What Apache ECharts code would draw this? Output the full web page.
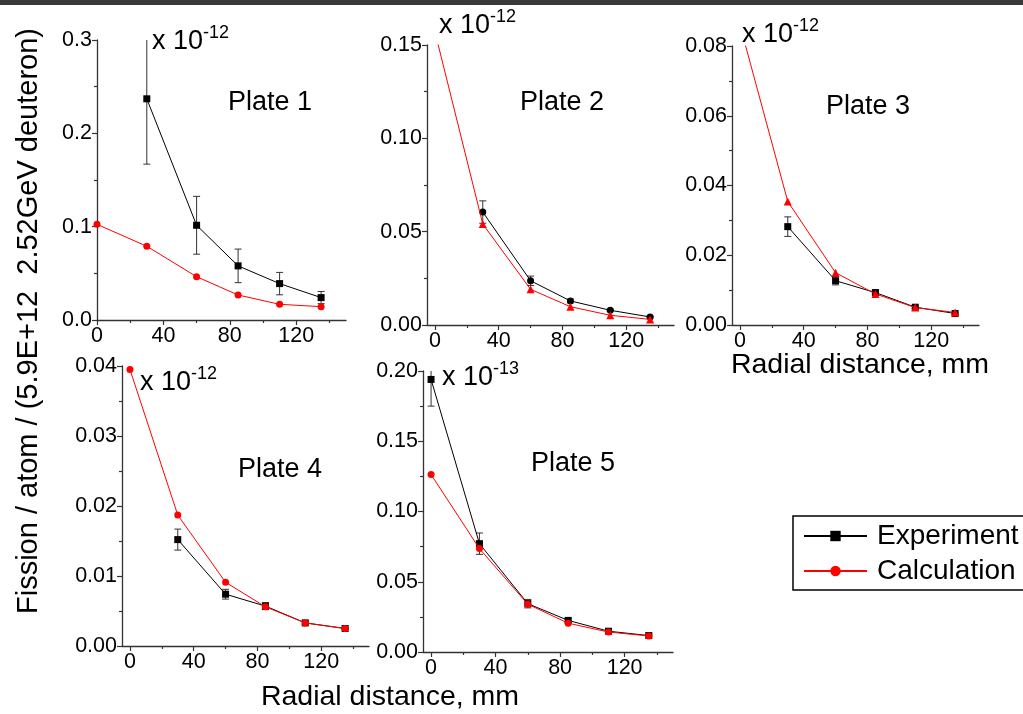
<!DOCTYPE html>
<html><head><meta charset="utf-8">
<script src="https://cdn.jsdelivr.net/npm/echarts@6/dist/echarts.min.js"></script>
<style>html,body{margin:0;padding:0;background:#fff}#c{width:1023px;height:714px}</style>
</head><body><div id="c"></div>
<script>
// ---------- data ----------
const calcX = [0, 30, 60, 85, 110, 135];
const expX = [30, 60, 85, 110, 135];
const expX5 = [0, 30, 60, 85, 110, 135];

const p1Exp = [0.237, 0.1015, 0.058, 0.039, 0.024];
const p1Err = [0.07, 0.031, 0.018, 0.012, 0.0065];
const p1Calc = [0.1025, 0.079, 0.0464, 0.0268, 0.0168, 0.0143];

const p2Exp = [0.0605, 0.0237, 0.0129, 0.0079, 0.0043];
const p2Err = [0.006, 0.0025, 0.001, 0.0006, 0.0004];
const p2Calc = [0.157, 0.0541, 0.0191, 0.0098, 0.0052, 0.0030];

const p3Exp = [0.0282, 0.0127, 0.0093, 0.0051, 0.0033];
const p3Err = [0.0028, 0.0012, 0.0007, 0.0004, 0.0003];
const p3Calc = [0.086, 0.0354, 0.0150, 0.0089, 0.0050, 0.0036];

const p4Exp = [0.0152, 0.0074, 0.0057, 0.0033, 0.0025];
const p4Err = [0.0015, 0.0007, 0.0005, 0.0002, 0.0001];
const p4Calc = [0.0395, 0.0187, 0.0091, 0.0056, 0.0033, 0.0025];

const p5Exp = [0.194, 0.0771, 0.0344, 0.0225, 0.0148, 0.0117];
const p5Err = [0.019, 0.0076, 0.003, 0.0012, 0.0008, 0.0006];
const p5Calc = [0.1263, 0.0736, 0.0340, 0.0205, 0.0142, 0.0114];

const xMajorTicks = [0, 40, 80, 120];
const xMinorTicks = [20, 60, 100, 140];
const plateNames = ['Plate 1', 'Plate 2', 'Plate 3', 'Plate 4', 'Plate 5'];
const scaleExp = ['-12', '-12', '-12', '-12', '-13'];
const yMax = [0.3, 0.15, 0.08, 0.04, 0.20];
const yStep = [0.1, 0.05, 0.02, 0.01, 0.05];
const yDecimals = [1, 2, 2, 2, 2];
const xMin = [0, -5, -5, -5, -5];
const xMax = 150;
const seriesNames = ['Experiment', 'Calculation'];
const yTitle = 'Fission / atom / (5.9E+12  2.52GeV deuteron)';
const xTitle = 'Radial distance, mm';

const panels = [
  {ex: expX, ey: p1Exp, ee: p1Err, cy: p1Calc, eSym: 'rect', cSym: 'circle'},
  {ex: expX, ey: p2Exp, ee: p2Err, cy: p2Calc, eSym: 'circle', cSym: 'triangle'},
  {ex: expX, ey: p3Exp, ee: p3Err, cy: p3Calc, eSym: 'rect', cSym: 'triangle'},
  {ex: expX, ey: p4Exp, ee: p4Err, cy: p4Calc, eSym: 'rect', cSym: 'circle'},
  {ex: expX5, ey: p5Exp, ee: p5Err, cy: p5Calc, eSym: 'rect', cSym: 'circle'}
];

// ---------- layout ----------
const FONT = '"Liberation Sans", Arial, sans-serif';
const TICK_FS = 21.5;
const grids = [
  {left: 97, top: 40, width: 249, height: 280},
  {left: 427, top: 45, width: 247, height: 280},
  {left: 732, top: 46, width: 247, height: 279},
  {left: 122, top: 366, width: 247, height: 280},
  {left: 423, top: 371, width: 250, height: 281}
];
const plateLabelPos = [[228, 103], [520, 103], [826, 107], [238, 470], [531, 464]];
const scalePos = [[152, 42], [439, 26], [742, 35], [140, 383], [442, 378]];

const AX = '#333';
const xAxes = [], yAxes = [], series = [], graphics = [];

function errRender(params, api) {
  const x = api.value(0), lo = api.value(1), hi = api.value(2);
  const a = api.coord([x, lo]), b = api.coord([x, hi]);
  const h = 3.5, st = {stroke: '#333', lineWidth: 1};
  return {type: 'group', children: [
    {type: 'line', shape: {x1: a[0], y1: a[1], x2: b[0], y2: b[1]}, style: st},
    {type: 'line', shape: {x1: a[0] - h, y1: a[1], x2: a[0] + h, y2: a[1]}, style: st},
    {type: 'line', shape: {x1: b[0] - h, y1: b[1], x2: b[0] + h, y2: b[1]}, style: st}
  ]};
}

panels.forEach((p, i) => {
  xAxes.push({
    type: 'value', gridIndex: i, min: xMin[i], max: xMax,
    axisLine: {show: true, onZero: false, lineStyle: {color: AX, width: 1.3}},
    axisTick: {show: true, length: 5, customValues: xMajorTicks, lineStyle: {color: AX, width: 1.2}},
    axisLabel: {show: true, customValues: xMajorTicks, fontSize: TICK_FS, color: '#000', fontFamily: FONT, margin: 5},
    splitLine: {show: false}
  });
  xAxes.push({
    type: 'value', gridIndex: i, min: xMin[i], max: xMax, position: 'bottom',
    axisLine: {show: false},
    axisTick: {show: true, length: 3, customValues: xMinorTicks, lineStyle: {color: AX, width: 1.2}},
    axisLabel: {show: false},
    splitLine: {show: false}
  });
  yAxes.push({
    type: 'value', gridIndex: i, min: 0, max: yMax[i], interval: yStep[i],
    axisLine: {show: true, onZero: false, lineStyle: {color: AX, width: 1.3}},
    axisTick: {show: true, length: 5, lineStyle: {color: AX, width: 1.2}},
    minorTick: {show: true, splitNumber: 2, length: 3, lineStyle: {color: AX, width: 1.2}},
    axisLabel: {fontSize: TICK_FS, color: '#000', fontFamily: FONT, margin: 5,
      formatter: v => v.toFixed(yDecimals[i])},
    splitLine: {show: false}
  });
  const errData = p.ex.map((x, k) => [x, p.ey[k] - p.ee[k], p.ey[k] + p.ee[k]]);
  series.push({
    type: 'custom', name: 'err' + i, xAxisIndex: 2 * i, yAxisIndex: i,
    renderItem: errRender, data: errData, clip: true, z: 2
  });
  series.push({
    type: 'line', name: seriesNames[0], xAxisIndex: 2 * i, yAxisIndex: i,
    data: p.ex.map((x, k) => [x, p.ey[k]]),
    symbol: p.eSym, symbolSize: 7, showAllSymbol: true,
    lineStyle: {color: '#000', width: 1}, itemStyle: {color: '#000'},
    clip: true, z: 3, animation: false
  });
  series.push({
    type: 'line', name: seriesNames[1], xAxisIndex: 2 * i, yAxisIndex: i,
    data: calcX.map((x, k) => [x, p.cy[k]]),
    symbol: p.cSym, symbolSize: p.cSym === 'triangle' ? 8 : 7, showAllSymbol: true,
    lineStyle: {color: '#ff0000', width: 1}, itemStyle: {color: '#ff0000'},
    clip: true, z: 4, animation: false
  });
  graphics.push({
    type: 'text', x: plateLabelPos[i][0], y: plateLabelPos[i][1],
    style: {text: plateNames[i], font: '27px ' + FONT, fill: '#000', textAlign: 'left', textVerticalAlign: 'middle', verticalAlign: 'middle'}
  });
  graphics.push({
    type: 'text', x: scalePos[i][0], y: scalePos[i][1],
    style: {text: 'x 10', font: '27px ' + FONT, fill: '#000', textAlign: 'left', textVerticalAlign: 'middle', verticalAlign: 'middle'}
  });
  graphics.push({
    type: 'text', x: scalePos[i][0] + 51, y: scalePos[i][1] - 9,
    style: {text: scaleExp[i], font: '18px ' + FONT, fill: '#000', textAlign: 'left', textVerticalAlign: 'middle', verticalAlign: 'middle'}
  });
});

graphics.push({type: 'rect', shape: {x: 0, y: 0, width: 1023, height: 5}, style: {fill: '#3a3a3a'}, z: 100});
graphics.push({
  type: 'text', x: 29, y: 321, rotation: Math.PI / 2,
  style: {text: yTitle, font: '29px ' + FONT, fill: '#000', textAlign: 'center', textVerticalAlign: 'middle', verticalAlign: 'middle'}
});
graphics.push({
  type: 'text', x: 390, y: 697,
  style: {text: xTitle, font: '28.5px ' + FONT, fill: '#000', textAlign: 'center', textVerticalAlign: 'middle', verticalAlign: 'middle'}
});
graphics.push({
  type: 'text', x: 860, y: 365,
  style: {text: xTitle, font: '28.5px ' + FONT, fill: '#000', textAlign: 'center', textVerticalAlign: 'middle', verticalAlign: 'middle'}
});

const chart = echarts.init(document.getElementById('c'), null, {renderer: 'canvas'});
chart.setOption({
  animation: false,
  backgroundColor: '#fff',
  grid: grids,
  xAxis: xAxes,
  yAxis: yAxes,
  series: series,
  graphic: graphics,
  legend: {
    data: seriesNames, orient: 'vertical', left: 793, top: 516,
    borderColor: '#000', borderWidth: 1.5, padding: [5, 12, 4, 10],
    itemGap: 5, itemWidth: 63, itemHeight: 13,
    textStyle: {fontSize: 28, color: '#000', fontFamily: FONT, lineHeight: 30, padding: [0, 0, 0, 5]}
  }
});
</script></body></html>
